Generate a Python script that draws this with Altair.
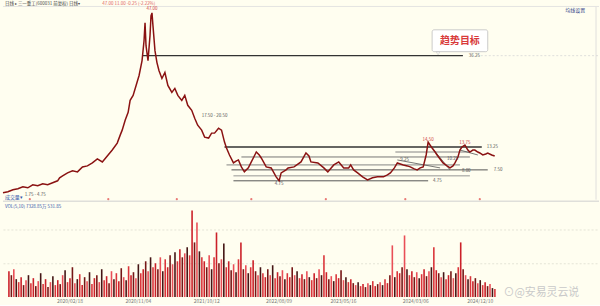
import altair as alt
import pandas as pd

BG = "#fffef0"
FONT = "Noto Sans CJK SC"

# ---------------- data ----------------
# price: (bar index, close)
price = [(0,1.75),(5,2.0),(10,2.5),(15,2.75),(20,3.25),(25,3.0),(30,3.75),(35,3.5),(40,4.0),(45,3.75),
         (50,4.25),(55,4.75),(57,5.5),(60,6.0),(65,6.75),(70,7.25),(75,7.0),(80,8.25),(85,8.5),(90,9.25),
         (95,10.25),(100,9.5),(105,11.0),(110,12.5),(115,14.25),(118,16.25),(120,17.5),(123,20.0),(126,22.0),(128,25.0),
         (131,26.25),(134,28.75),(137,31.25),(140,35.0),(142,40.0),(143,44.5),(144,38.75),(146,35.0),(148,41.25),(149,46.25),
         (150,47.0),(151,43.75),(153,37.5),(155,34.5),(157,32.5),(160,30.5),(163,32.0),(166,28.75),(170,27.0),(173,28.0),
         (176,26.25),(180,25.0),(183,26.25),(186,23.75),(190,22.5),(193,20.5),(196,18.75),(200,17.5),(203,15.75),(207,15.5),
         (210,16.75),(213,16.75),(217,18.0),(220,17.5),(223,14.5),(225,13.0),(228,11.25),(232,9.25),(235,9.75),(237,10.0),
         (240,8.25),(243,7.0),(247,8.0),(250,9.5),(252,10.5),(255,12.0),(258,11.25),(260,10.5),(265,8.25),(270,8.0),
         (275,5.75),(278,4.75),(280,6.75),(285,7.5),(287,8.0),(293,8.25),(300,9.5),(305,11.75),(308,11.0),(310,9.5),
         (317,9.25),(323,8.0),(327,7.0),(333,8.75),(338,9.5),(343,8.0),(348,8.0),(350,8.75),(353,7.5),(357,6.75),
         (362,5.75),(367,5.0),(372,5.5),(377,5.75),(383,5.75),(387,6.25),(390,6.75),(394,8.0),(397,9.25),(400,9.0),
         (403,8.75),(407,8.5),(410,8.25),(414,7.75),(417,7.5),(420,8.0),(423,8.25),(426,11.25),(428,14.5),(430,13.75),
         (432,13.0),(435,12.0),(437,11.25),(440,10.25),(443,9.25),(447,8.5),(450,8.0),(453,8.5),(455,9.25),(458,10.75),
         (460,12.5),(462,13.25),(465,13.75),(468,12.5),(470,12.0),(473,12.5),(475,12.5),(478,12.0),(480,11.75),(483,11.25),
         (486,11.5),(488,11.75),(492,11.25),(495,11.0)]

# volume, one bar every 2.5 bar-index units
volume = [26,22,28,18,15,20,12,17,22,14,19,11,16,24,13,18,10,15,21,12,
          17,13,22,27,15,19,30,14,18,23,12,20,16,25,13,19,22,15,28,17,
          21,14,26,18,24,16,29,20,17,31,22,25,19,33,24,28,36,26,40,30,
          34,28,40,26,38,30,42,33,45,36,48,40,44,50,42,87,55,75,46,40,
          36,30,42,28,40,65,34,38,54,30,36,27,33,25,38,55,28,32,24,30,
          37,26,22,30,24,20,28,22,32,19,25,21,27,18,24,20,30,22,26,19,
          23,18,26,20,17,24,19,28,22,42,25,18,21,16,23,19,27,17,20,15,
          18,14,12,15,11,13,10,14,12,16,11,13,15,12,18,14,22,52,20,26,
          24,30,62,28,22,26,20,25,19,23,28,21,26,30,50,27,24,20,25,18,
          22,26,19,24,30,55,28,22,18,21,16,19,14,17,12,15,11,13,9,8]

tick_k = [63, 133, 203, 277, 343, 417, 483]
tick_labels = ["2020/02/18", "2020/11/04", "2021/10/12", "2022/08/09",
               "2023/05/16", "2024/03/06", "2024/12/10"]

# support / resistance levels: (price, from, to, colour, width)
levels = [(36.25, 140, 463, "#333333", 1.4),
          (13.25, 223, 482, "#333333", 1.4),
          (12.0, 395, 470, "#777777", 0.9),
          (10.75, 240, 470, "#666666", 0.9),
          (8.75, 225, 460, "#777777", 0.9),
          (7.5, 230, 488, "#555555", 1.0),
          (6.0, 232, 470, "#888888", 0.9),
          (4.75, 232, 428, "#555555", 1.0)]

diagonals = [(397, 10.0, 440, 8.0), (428, 14.25, 450, 7.5), (460, 12.5, 478, 11.25)]

labels = [(150, 47.9, "47.00", "#d04040", "center"),
          (20, 1.1, "1.75 - 4.75", "#555555", "left"),
          (198, 21.0, "17.50 - 20.50", "#555555", "left"),
          (278, 3.9, "4.75", "#555555", "center"),
          (428, 15.0, "14.50", "#d04040", "center"),
          (465, 14.3, "13.75", "#d04040", "center"),
          (398, 9.9, "9.25", "#555555", "left"),
          (445, 10.3, "10.25", "#555555", "left"),
          (460, 7.2, "8.00", "#555555", "left"),
          (467, 36.25, "36.25", "#555555", "left"),
          (485, 13.25, "13.25", "#555555", "left"),
          (492, 7.5, "7.50", "#555555", "left"),
          (431, 4.75, "4.75", "#555555", "left")]

marker_k = [27, 106, 175, 250, 325, 405, 480]

# ---------------- frames ----------------
pdf = pd.DataFrame(price, columns=["k", "close"])
vdf = pd.DataFrame({"k": [i * 2.5 + 1 for i in range(len(volume))], "vol": volume})
shades = ["#c8141e", "#6e0a0a", "#e8454e", "#3a0808", "#d82a30"]
vdf["c"] = [shades[i % 5] for i in range(len(vdf))]
ldf = pd.DataFrame(levels, columns=["v", "x0", "x1", "c", "w"])
ddf = pd.DataFrame(diagonals, columns=["x0", "y0", "x1", "y1"])
labdf = pd.DataFrame(labels, columns=["k", "v", "t", "c", "a"])
mdf = pd.DataFrame({"k": marker_k})

xs = alt.Scale(domain=[0, 600], nice=False, zero=False)
ys = alt.Scale(domain=[0, 50], nice=False, zero=False)


def X(f):
    return alt.X(f, scale=xs, axis=None)


def Y(f):
    return alt.Y(f, scale=ys, axis=None)


def vtext(txt, x, y, size=5, color="#333333", align="left", weight="normal"):
    return alt.Chart(pd.DataFrame({"t": [txt]})).mark_text(
        align=align, baseline="middle", fontSize=size, color=color,
        font=FONT, fontWeight=weight
    ).encode(text="t:N", x=alt.value(x), y=alt.value(y))


# ---------------- price panel ----------------
header_line = alt.Chart(pd.DataFrame({"a": [0]})).mark_rule(color="#dddddd", strokeWidth=0.8).encode(
    x=alt.value(0), x2=alt.value(600), y=alt.value(5.5))
right_line = alt.Chart(pd.DataFrame({"a": [0]})).mark_rule(color="#d8d8d8", strokeWidth=0.8).encode(
    x=alt.value(597), y=alt.value(6), y2=alt.value(200))
bottom_line = alt.Chart(pd.DataFrame({"a": [0]})).mark_rule(color="#cfcfcf", strokeWidth=1).encode(
    x=alt.value(0), x2=alt.value(600), y=alt.value(201.5))

level_rules = alt.Chart(ldf).mark_rule().encode(
    x=X("x0:Q"), x2="x1:Q", y=Y("v:Q"),
    color=alt.Color("c:N", scale=None), strokeWidth=alt.StrokeWidth("w:Q", scale=None))
target_ext = alt.Chart(pd.DataFrame({"x0": [477], "x1": [600], "v": [36.25]})).mark_rule(
    color="#d6d6d6", strokeWidth=0.8, strokeDash=[2, 2]).encode(x=X("x0:Q"), x2="x1:Q", y=Y("v:Q"))
diag_rules = alt.Chart(ddf).mark_rule(color="#555555", strokeWidth=0.8).encode(
    x=X("x0:Q"), x2="x1:Q", y=Y("y0:Q"), y2="y1:Q")

price_line = alt.Chart(pdf).mark_line(color="#8a1212", strokeWidth=1.5).encode(
    x=X("k:Q"), y=Y("close:Q"))

label_layers = []
for al in ["left", "center"]:
    sub = labdf[labdf["a"] == al]
    label_layers.append(alt.Chart(sub).mark_text(
        fontSize=4.5, font=FONT, align=al, baseline="middle", dx=2 if al == "left" else 0).encode(
        x=X("k:Q"), y=Y("v:Q"), text="t:N", color=alt.Color("c:N", scale=None)))

box = alt.Chart(pd.DataFrame({"x0": [432], "x1": [488], "y0": [37.25], "y1": [42.75]})).mark_rect(
    fill="white", stroke="#bdbdbd", strokeWidth=0.8, cornerRadius=2).encode(
    x=X("x0:Q"), x2="x1:Q", y=Y("y0:Q"), y2="y1:Q")
pointer = alt.Chart(pd.DataFrame({"k": [438], "v": [36.8]})).mark_point(
    shape="triangle-down", size=12, filled=True, color="white", stroke="#bdbdbd", strokeWidth=0.6).encode(
    x=X("k:Q"), y=Y("v:Q"))
box_text = alt.Chart(pd.DataFrame({"k": [460], "v": [40.0], "t": ["趋势目标"]})).mark_text(
    fontSize=10, font=FONT, fontWeight="bold", color="#d83a3a").encode(
    x=X("k:Q"), y=Y("v:Q"), text="t:N")

markers = alt.Chart(mdf).mark_point(shape="circle", size=5, filled=True, color="#e04040").encode(
    x=X("k:Q"), y=alt.value(199.5))

price_panel = alt.layer(
    header_line, right_line, bottom_line, target_ext, level_rules, diag_rules, price_line,
    *label_layers, box, pointer, box_text, markers,
    vtext("日线 ▸ 三一重工(600031 前复权)   日线▾", 2, 3, color="#444444", size=4.5),
    vtext("47.00    11.00  -0.25 (-2.22%)", 100, 3, color="#e06060", size=4.5),
    vtext("均线设置", 586, 9, color="#334488", align="right"),
    vtext("成交量▾", 2, 197, color="#3355aa"),
).properties(width=600, height=200)

# ---------------- volume panel ----------------
expr = "''"
for kv, lab in reversed(list(zip(tick_k, tick_labels))):
    expr = f"datum.value == {kv} ? '{lab}' : ({expr})"

vs = alt.Scale(domain=[0, 94], nice=False, zero=True)
vol_bars = alt.Chart(vdf).mark_bar(width=1.6, opacity=0.95).encode(
    x=alt.X("k:Q", scale=xs,
            axis=alt.Axis(values=tick_k, labelExpr=expr, labelFontSize=5, labelColor="#777777",
                          labelFont=FONT, ticks=False, domain=False, grid=False, labelPadding=2,
                          title=None, labelOverlap=False)),
    y=alt.Y("vol:Q", scale=vs,
            axis=alt.Axis(values=[34, 68], grid=True, gridColor="#e4e4d6", gridDash=[2, 2],
                          labels=False, ticks=False, domain=False, title=None)),
    color=alt.Color("c:N", scale=None))

vol_panel = alt.layer(
    vol_bars,
    vtext("VOL(5,10)   7328.85万   531.85", 2, 3, color="#3355aa", size=4.5),
    vtext("⊙@安易灵云说", 542, 90, color="#c9c9c9", size=11, align="center"),
).properties(width=600, height=94)

chart = alt.vconcat(price_panel, vol_panel, spacing=2).properties(
    background=BG, padding=0).configure_view(stroke=None)

chart.save("out.html", embed_options={"renderer": "svg", "actions": False})
